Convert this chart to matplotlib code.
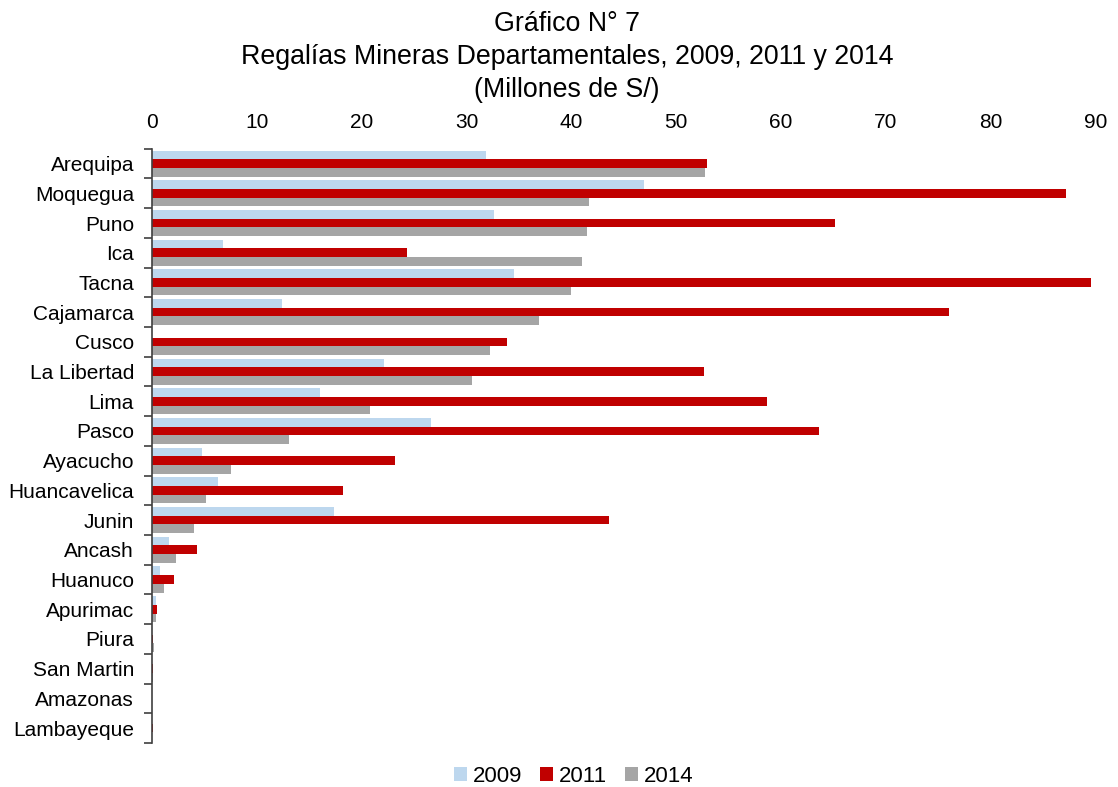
import matplotlib.pyplot as plt
import numpy as np

plt.rcParams['font.family'] = ['Liberation Sans', 'DejaVu Sans']

departamentos = ['Arequipa', 'Moquegua', 'Puno', 'Ica', 'Tacna', 'Cajamarca', 'Cusco',
                 'La Libertad', 'Lima', 'Pasco', 'Ayacucho', 'Huancavelica', 'Junin',
                 'Ancash', 'Huanuco', 'Apurimac', 'Piura', 'San Martin', 'Amazonas',
                 'Lambayeque']

# millones de soles
r2009 = [31.9, 46.9, 32.6, 6.8, 34.5, 12.4, 0.0, 22.1, 16.0, 26.6,
         4.8, 6.3, 17.4, 1.6, 0.76, 0.35, 0.0, 0.0, 0.0, 0.02]
r2011 = [52.9, 87.2, 65.1, 24.3, 89.6, 76.0, 33.9, 52.6, 58.7, 63.6,
         23.2, 18.2, 43.6, 4.3, 2.07, 0.5, 0.13, 0.05, 0.03, 0.12]
r2014 = [52.7, 41.7, 41.5, 41.0, 40.0, 36.9, 32.2, 30.5, 20.8, 13.1,
         7.5, 5.1, 4.0, 2.3, 1.17, 0.38, 0.22, 0.1, 0.02, 0.02]

years = ['2009', '2011', '2014']
colors = ['#BDD7EE', '#C00000', '#A5A5A5']

fig = plt.figure(figsize=(11.18, 7.87), dpi=100)
ax = fig.add_axes([0.136, 0.056, 0.844, 0.755])

y = np.arange(len(departamentos))
h = 0.293
for k, (vals, lab, col) in enumerate(zip([r2009, r2011, r2014], years, colors)):
    ax.barh(y + (k - 1) * h, vals, height=h, color=col, label=lab, edgecolor='none')

ax.set_xlim(0, 90)
ax.set_ylim(len(departamentos) - 0.5, -0.5)

# x axis labels on top, no top line
ax.xaxis.tick_top()
ax.set_xticks(range(0, 91, 10))
ax.tick_params(axis='x', length=0, pad=12, labelsize=15)

ax.set_yticks(y)
ax.set_yticklabels(departamentos)
ax.set_yticks(np.arange(-0.5, len(departamentos), 1), minor=True)
ax.tick_params(axis='y', which='major', length=0, pad=13, labelsize=15)
ax.tick_params(axis='y', which='minor', length=6, width=1.2, color='#404040', direction='out')

for s in ['top', 'right', 'bottom']:
    ax.spines[s].set_visible(False)
ax.spines['left'].set_color('#404040')
ax.spines['left'].set_linewidth(1.2)

fig.text(0.507, 0.986, 'Gráfico N° 7\nRegalías Mineras Departamentales, 2009, 2011 y 2014\n(Millones de S/)',
         ha='center', va='top', fontsize=19.3, linespacing=1.34)

fig.legend(loc='center', bbox_to_anchor=(0.513, 0.013), ncol=3, frameon=False,
           fontsize=16, handlelength=0.6, handleheight=0.6, handletextpad=0.25,
           columnspacing=0.8)

fig.savefig('out.png', dpi=100)
